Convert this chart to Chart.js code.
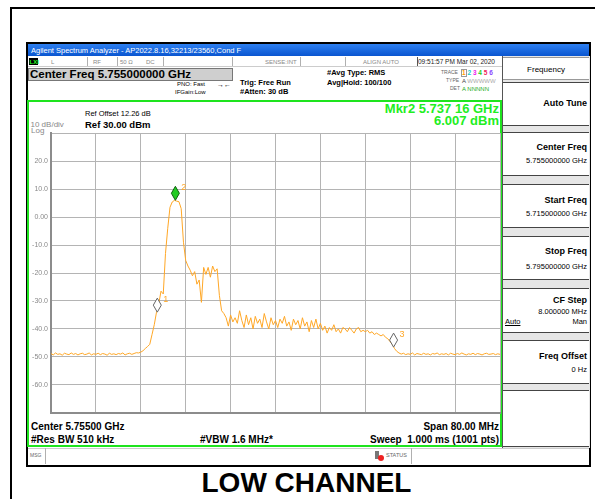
<!DOCTYPE html>
<html>
<head>
<meta charset="utf-8">
<script src="https://cdn.jsdelivr.net/npm/chart.js@4.4.1/dist/chart.umd.min.js"></script>
<style>
  body { margin: 0; width: 595px; height: 499px; overflow: hidden; background: #fff; position: relative; font-family: 'Liberation Sans', Arial, sans-serif; }
  .abs { position: absolute; }
  .t { position: absolute; white-space: nowrap; line-height: 1; color: #000; }
  .b { font-weight: bold; }
  .sep { position: absolute; width: 1px; background: #b0b0b0; }
  .key { position: absolute; left: 503px; width: 86px; background: #fff; border-top: 1px solid #444; border-bottom: 1px solid #444; box-sizing: border-box; }
  .key .t { right: 2px; }
</style>
</head>
<body>
<!-- page frame -->
<div class="abs" style="left:10px;top:7px;width:585px;height:2px;background:#000"></div>
<div class="abs" style="left:10px;top:7px;width:2px;height:492px;background:#000"></div>

<!-- instrument screen -->
<div class="abs" style="left:26px;top:42px;width:565px;height:425px;border:2px solid #000;box-sizing:border-box;background:#fff"></div>
<div class="abs" style="left:28px;top:44px;width:561px;height:12px;background:linear-gradient(#2d7ff0,#0a55d0)"></div>
<div class="t" style="left:31px;top:46.5px;font-size:7.5px;color:#fff">Agilent Spectrum Analyzer - AP2022.8.16,32213/23560,Cond F</div>

<!-- status row -->
<div class="abs" style="left:28px;top:57px;width:475px;height:9px;background:#fff;border-bottom:1px solid #ccc"></div>
<div class="abs" style="left:29px;top:58px;width:9px;height:7px;background:#000"></div>
<div class="t b" style="left:29.5px;top:58.5px;font-size:6px;color:#2f2">LXI</div>
<div class="t" style="left:51px;top:59px;font-size:6px;color:#888">L</div>
<div class="sep" style="left:87px;top:57px;height:9px"></div>
<div class="t" style="left:93px;top:59px;font-size:6px;color:#888">RF</div>
<div class="sep" style="left:117px;top:57px;height:9px"></div>
<div class="t" style="left:120px;top:59px;font-size:6px;color:#888">50 Ω</div>
<div class="t" style="left:146px;top:59px;font-size:6px;color:#888">DC</div>
<div class="sep" style="left:163px;top:57px;height:9px"></div>
<div class="sep" style="left:232px;top:57px;height:9px"></div>
<div class="t" style="left:265px;top:59px;font-size:6px;color:#888">SENSE:INT</div>
<div class="sep" style="left:300px;top:57px;height:9px"></div>
<div class="sep" style="left:345px;top:57px;height:9px"></div>
<div class="t" style="left:363px;top:59px;font-size:6px;color:#888">ALIGN AUTO</div>
<div class="sep" style="left:417px;top:57px;height:9px;background:#555"></div>
<div class="t" style="left:418px;top:59px;font-size:6.5px;color:#222">09:51:57 PM Mar 02, 2020</div>

<!-- header settings -->
<div class="abs" style="left:28px;top:68px;width:205px;height:13px;background:#cfcfcf;border:1px solid #777;box-sizing:border-box"></div>
<div class="t b" style="left:30px;top:68.5px;font-size:11.5px">Center Freq 5.755000000 GHz</div>
<div class="t" style="left:177px;top:81px;font-size:6px">PNO: Fast</div>
<div class="t" style="left:217px;top:80.5px;font-size:7px">→←</div>
<div class="t" style="left:175px;top:89px;font-size:6px">IFGain:Low</div>
<div class="t b" style="left:240px;top:79px;font-size:7.5px">Trig: Free Run</div>
<div class="t b" style="left:240px;top:88px;font-size:7.5px">#Atten: 30 dB</div>
<div class="t b" style="left:327px;top:69px;font-size:7.5px">#Avg Type: RMS</div>
<div class="t b" style="left:327px;top:79px;font-size:7.5px">Avg|Hold: 100/100</div>
<div class="t" style="left:441px;top:70px;font-size:5px;color:#666">TRACE</div>
<div class="t" style="left:446px;top:78px;font-size:5px;color:#666">TYPE</div>
<div class="t" style="left:450px;top:86px;font-size:5px;color:#666">DET</div>
<div class="abs" style="left:461px;top:68.5px;width:6px;height:8px;border:1px solid #999;box-sizing:border-box"></div>
<div class="t b" style="left:462px;top:69.5px;font-size:6.5px"><span style="color:#f90">1</span> <span style="color:#1cc">2</span> <span style="color:#e2e">3</span> <span style="color:#2c2">4</span> <span style="color:#e25">5</span> <span style="color:#84f">6</span></div>
<div class="t" style="left:462px;top:77.5px;font-size:6px;color:#444">A <span style="color:#aaa">WWWWW</span></div>
<div class="t" style="left:462px;top:85.5px;font-size:6px;color:#2a2">A NNNNN</div>

<!-- plot frame -->
<div class="abs" style="left:27px;top:100px;width:475px;height:347px;border:2px solid #1ee41e;box-sizing:border-box"></div>
<div class="t" style="left:85px;top:109.5px;font-size:7.5px">Ref Offset 12.26 dB</div>
<div class="t b" style="left:85px;top:119.5px;font-size:9.5px">Ref 30.00 dBm</div>
<div class="t" style="left:30.5px;top:120.5px;font-size:8px;color:#888">10 dB/div</div>
<div class="t" style="left:31px;top:127px;font-size:8px;color:#888">Log</div>
<div class="t b" style="right:96px;top:102px;font-size:13px;color:#22ee22">Mkr2 5.737 16 GHz</div>
<div class="t b" style="right:96px;top:114px;font-size:13px;color:#22ee22">6.007 dBm</div>

<div class="abs" style="left:28px;top:126px;width:474px;height:294px"><canvas id="sa"></canvas></div>

<div class="t b" style="left:31px;top:422px;font-size:10px">Center 5.75500 GHz</div>
<div class="t b" style="left:31px;top:435px;font-size:10px">#Res BW 510 kHz</div>
<div class="t b" style="left:200px;top:435px;font-size:10px">#VBW 1.6 MHz*</div>
<div class="t b" style="right:96px;top:422px;font-size:10px">Span 80.00 MHz</div>
<div class="t b" style="right:96px;top:435px;font-size:10px">Sweep &nbsp;1.000 ms (1001 pts)</div>

<!-- message bar -->
<div class="abs" style="left:28px;top:448px;width:561px;height:1px;background:#ccc"></div>
<div class="t" style="left:30px;top:453px;font-size:5px;color:#666">MSG</div>
<div class="sep" style="left:45px;top:448px;height:16px"></div>
<div class="abs" style="left:375px;top:451px;width:4px;height:8px;background:#777"></div>
<div class="abs" style="left:378px;top:455px;width:6px;height:6px;border-radius:3px;background:#e22"></div>
<div class="t" style="left:386px;top:453px;font-size:5.5px;color:#666">STATUS</div>
<div class="sep" style="left:411px;top:448px;height:16px"></div>

<!-- soft keys -->
<div class="abs" style="left:502px;top:56px;width:87px;height:392px;background:#e6e6e6;border-left:1px solid #555"></div>
<div class="key" style="top:57px;height:23px;border-color:#999"><div class="t" style="left:0;right:0;text-align:center;top:8px;font-size:8px">Frequency</div></div>
<div class="key" style="top:82px;height:44px"><div class="t b" style="top:16px;font-size:9px">Auto Tune</div></div>
<div class="key" style="top:132px;height:44px"><div class="t b" style="top:10px;font-size:9px">Center Freq</div><div class="t" style="top:24px;font-size:7.5px">5.755000000 GHz</div></div>
<div class="key" style="top:184px;height:44px"><div class="t b" style="top:11px;font-size:9px">Start Freq</div><div class="t" style="top:25px;font-size:7.5px">5.715000000 GHz</div></div>
<div class="key" style="top:236px;height:44px"><div class="t b" style="top:10px;font-size:9px">Stop Freq</div><div class="t" style="top:26px;font-size:7.5px">5.795000000 GHz</div></div>
<div class="key" style="top:288px;height:45px"><div class="t b" style="top:7px;font-size:9px">CF Step</div><div class="t" style="top:19px;font-size:7.5px">8.000000 MHz</div><div class="t" style="top:29px;font-size:7.5px">Man</div><div class="t" style="left:2px;right:auto;top:29px;font-size:7.5px;text-decoration:underline">Auto</div></div>
<div class="key" style="top:340px;height:44px"><div class="t b" style="top:11px;font-size:9px">Freq Offset</div><div class="t" style="top:25px;font-size:7.5px">0 Hz</div></div>
<div class="key" style="top:390px;height:57px"></div>

<div class="t b" style="left:0;width:613px;text-align:center;top:469px;font-size:28px">LOW CHANNEL</div>

<script>
// sweep: 5715 - 5795 MHz, 201 samples
const startMHz = 5715;
const stepMHz = 0.4;
const traceDbm = [
  -48.8, -49.3, -48.6, -49.1, -48.9, -49.4, -48.7, -49.0, -49.2, -48.6,
  -49.1, -48.8, -49.3, -48.9, -48.7, -49.2, -49.0, -48.6, -49.3, -48.9,
  -49.1, -48.7, -49.2, -48.8, -49.0, -49.4, -48.7, -49.1, -48.9, -49.2,
  -48.8, -49.0, -48.6, -49.3, -48.9, -48.7, -49.1, -48.8, -48.5, -48.6,
  -48.3, -47.8, -47.0, -46.3, -45.5, -42.0, -38.5, -34.0, -31.0, -26.5,
  -27.5, -13.0, -4.0, 3.5, 5.4, 6.0, 5.7, 5.5, 3.0, -9.0,
  -15.5, -17.5, -19.0, -21.0, -19.5, -24.0, -22.5, -30.5, -18.0, -20.5,
  -18.0, -21.5, -17.5, -19.5, -18.5, -28.0, -33.5, -34.5, -36.0, -39.0,
  -35.0, -37.5, -36.0, -38.0, -33.5, -37.0, -39.5, -35.0, -38.5, -36.0,
  -40.0, -35.5, -38.0, -36.5, -39.5, -34.5, -37.5, -40.0, -36.0, -38.5,
  -37.0, -39.5, -36.5, -38.0, -35.5, -39.0, -37.5, -40.5, -36.5, -38.5,
  -37.0, -40.0, -36.0, -39.0, -37.5, -41.0, -37.0, -39.5, -36.5, -40.0,
  -38.0, -40.5, -39.0, -41.5, -39.5, -40.5, -38.5, -41.0, -40.0, -41.5,
  -39.5, -40.0, -41.0, -39.5, -40.5, -41.5, -40.0, -39.5, -41.0, -40.5,
  -41.0, -40.5, -41.5, -41.0, -42.0, -41.5, -42.0, -42.5, -42.0, -43.0,
  -43.5, -44.5, -45.5, -47.0, -48.0, -48.6, -49.0, -48.7, -49.2, -48.9,
  -49.1, -48.6, -49.3, -48.8, -49.0, -49.2, -48.7, -49.1, -48.9, -49.3,
  -48.8, -49.0, -48.6, -49.2, -48.9, -49.1, -48.8, -49.3, -48.7, -49.0,
  -49.2, -48.8, -49.1, -48.6, -49.0, -49.3, -48.9, -49.1, -48.7, -49.2,
  -48.8, -49.0, -49.3, -48.9, -48.7, -49.1, -49.0, -48.8, -49.2, -48.9,
  -49.1
];

const markerNames = ['1', '2', '3'];
const markerMHz = [5733.94, 5737.16, 5776.04];
const markerDbm = [-34.0, 6.007, -46.5];

const points = traceDbm.map((v, i) => ({ x: startMHz + i * stepMHz, y: v }));

const markerPlugin = {
    id: 'markers',
    afterDatasetsDraw(chart) {
        const ctx = chart.ctx;
        const xs = chart.scales.x, ys = chart.scales.y;
        ctx.save();
        markerNames.forEach((name, i) => {
            const px = xs.getPixelForValue(markerMHz[i]);
            const py = ys.getPixelForValue(markerDbm[i]);
            ctx.beginPath();
            ctx.moveTo(px, py);
            ctx.lineTo(px + 4, py - 7);
            ctx.lineTo(px, py - 14);
            ctx.lineTo(px - 4, py - 7);
            ctx.closePath();
            ctx.fillStyle = name === '2' ? '#22cc22' : '#ffffff';
            ctx.strokeStyle = name === '2' ? '#106010' : '#666666';
            ctx.lineWidth = 1;
            ctx.fill();
            ctx.stroke();
            ctx.fillStyle = '#ffa726';
            ctx.font = '9px "Liberation Sans", Arial';
            ctx.textBaseline = 'middle';
            ctx.fillText(name, px + 6, py - 13);
        });
        ctx.restore();
    }
};

new Chart(document.getElementById('sa'), {
    type: 'line',
    data: {
        datasets: [{
            data: points,
            borderColor: '#ffa726',
            borderWidth: 1,
            pointRadius: 0,
            tension: 0
        }]
    },
    options: {
        responsive: true,
        maintainAspectRatio: false,
        animation: false,
        layout: { padding: { top: 6, right: 2, bottom: 2, left: 0 } },
        plugins: { legend: { display: false }, tooltip: { enabled: false } },
        scales: {
            x: {
                type: 'linear',
                min: 5715,
                max: 5795,
                ticks: { display: false, stepSize: 8 },
                grid: { color: '#b4b4b4', drawTicks: false },
                border: { display: true, color: '#8c8c8c', width: 2 },
                afterFit: (s) => { s.height = 0; }
            },
            y: {
                min: -70,
                max: 30,
                ticks: {
                    stepSize: 10,
                    padding: 3,
                    color: '#8a8a8a',
                    font: { size: 7, family: '"Liberation Sans", Arial' },
                    callback: (v) => (v === 30 || v === -70) ? '' : (v === 0 ? '0.00' : v.toFixed(1))
                },
                grid: { color: '#b4b4b4', drawTicks: false },
                border: { display: true, color: '#8c8c8c', width: 2 },
                afterFit: (s) => { s.width = 23; }
            }
        }
    },
    plugins: [markerPlugin]
});
</script>
</body>
</html>
